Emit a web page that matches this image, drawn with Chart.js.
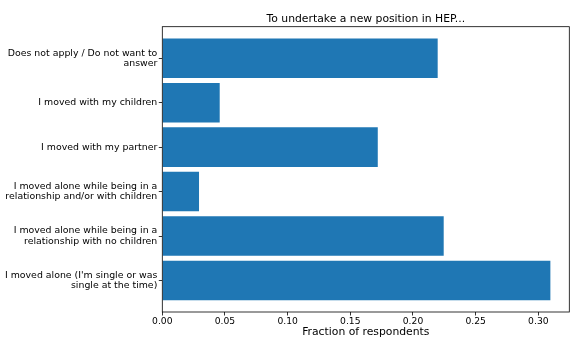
<!DOCTYPE html>
<html>
<head>
<meta charset="utf-8">
<script src="https://cdn.jsdelivr.net/npm/chart.js@4/dist/chart.umd.min.js"></script>
<style>
  html, body { margin: 0; padding: 0; background: #fff; }
  #wrap { width: 581px; height: 339px; }
</style>
</head>
<body>
<div id="wrap"><canvas id="barChart" width="581" height="339"></canvas></div>
<script>
// categories, top to bottom
const categories = [
    ["Does not apply / Do not want to", "answer"],
    ["I moved with my children"],
    ["I moved with my partner"],
    ["I moved alone while being in a", "relationship and/or with children"],
    ["I moved alone while being in a", "relationship with no children"],
    ["I moved alone (I'm single or was", "single at the time)"]
];

const fractions = [0.2197, 0.0458, 0.1719, 0.0293, 0.2245, 0.3096];
const xTicks = [0.00, 0.05, 0.10, 0.15, 0.20, 0.25, 0.30];

const titleText = "To undertake a new position in HEP...";
const xLabel = "Fraction of respondents";

const FONT = "'DejaVu Sans', sans-serif";

// full frame + title + x label, matplotlib style
const decorations = {
    id: "decorations",
    afterDraw(chart) {
        const { ctx, chartArea: a } = chart;
        ctx.save();
        ctx.strokeStyle = "#000";
        ctx.lineWidth = 0.8;
        ctx.strokeRect(a.left, a.top, a.right - a.left, a.bottom - a.top);
        ctx.fillStyle = "#000";
        ctx.textAlign = "center";
        ctx.textBaseline = "middle";
        const cx = (a.left + a.right) / 2;
        ctx.font = "10.8px " + FONT;
        ctx.fillText(titleText, cx, 19);
        ctx.fillText(xLabel, cx, 332);
        ctx.restore();
    }
};

const ctx = document.getElementById("barChart").getContext("2d");

new Chart(ctx, {
    type: "bar",
    data: {
        datasets: [{
            data: fractions.map((v, i) => ({ x: v, y: i })),
            backgroundColor: "#1f77b4",
            borderWidth: 0,
            barPercentage: 0.89,
            categoryPercentage: 1.0
        }]
    },
    options: {
        indexAxis: "y",
        responsive: false,
        animation: false,
        layout: { padding: { top: 26.7, right: 11.7, bottom: 0, left: 0 } },
        plugins: {
            legend: { display: false },
            tooltip: { enabled: false }
        },
        scales: {
            x: {
                type: "linear",
                min: 0,
                max: 0.3247,
                afterBuildTicks: (s) => { s.ticks = xTicks.map(v => ({ value: v })); },
                afterFit: (s) => { s.height = 27; },
                grid: { drawOnChartArea: false, drawTicks: true, tickLength: 3.5, color: "#000", lineWidth: 0.8 },
                border: { display: false },
                ticks: {
                    padding: 1,
                    color: "#000",
                    font: { family: FONT, size: 9.2 },
                    maxRotation: 0,
                    callback: (v) => Number(v).toFixed(2)
                }
            },
            y: {
                type: "linear",
                reverse: true,
                offset: false,
                min: -0.71,
                max: 5.71,
                afterBuildTicks: (s) => { s.ticks = categories.map((c, i) => ({ value: i })); },
                afterFit: (s) => { s.width = 162.3; },
                grid: { offset: false, drawOnChartArea: false, drawTicks: true, tickLength: 3.5, color: "#000", lineWidth: 0.8 },
                border: { display: false },
                ticks: {
                    padding: 1.5,
                    color: "#000",
                    font: { family: FONT, size: 9.4, lineHeight: 1.1 },
                    callback: (v) => categories[v]
                }
            }
        }
    },
    plugins: [decorations]
});
</script>
</body>
</html>
